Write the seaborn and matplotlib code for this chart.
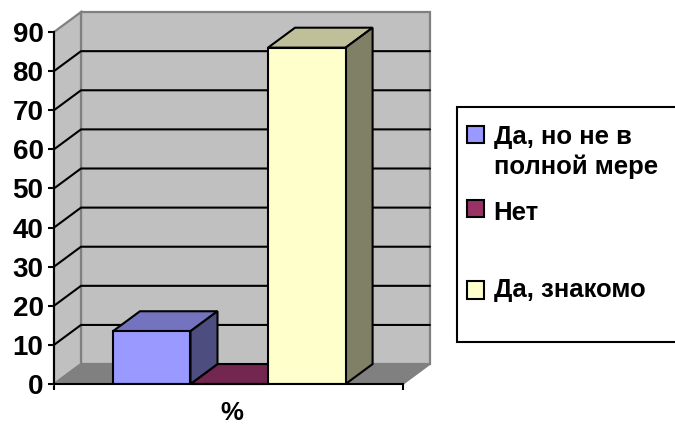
import matplotlib
matplotlib.use("Agg")
import matplotlib.pyplot as plt
import pandas as pd
import seaborn as sns
from matplotlib.legend_handler import HandlerPatch
from matplotlib.patches import Polygon, Rectangle

categories = ["Да, но не в\nполной мере", "Нет\n ", "Да, знакомо\n "]
values = [13.5, 0, 86]
front_colors = ["#9999FF", "#993366", "#FFFFCC"]
top_colors = ["#7373BF", "#732650", "#BFBF99"]
side_colors = ["#4D4D80", "#4D1A33", "#808066"]
y_ticks = [0, 10, 20, 30, 40, 50, 60, 70, 80, 90]
x_label = "%"

sns.set_style("white")
plt.rcParams["font.family"] = ["Liberation Sans", "DejaVu Sans"]
plt.rcParams["font.weight"] = "bold"
plt.rcParams["text.color"] = "black"
plt.rcParams["axes.labelcolor"] = "black"
plt.rcParams["ytick.color"] = "black"
plt.rcParams["xtick.color"] = "black"

W, H = 675, 426
fig = plt.figure(figsize=(W / 100, H / 100), dpi=100)
ax = fig.add_axes([54 / W, 1 - 384 / H, 349 / W, 352 / H])

df = pd.DataFrame({"answer": categories, "percent": values})
sns.barplot(
    data=df, x="answer", y="percent", hue="answer",
    palette=dict(zip(categories, front_colors)), legend=False, saturation=1,
    width=1, edgecolor="black", linewidth=1.5, zorder=5, ax=ax,
)
bars = list(ax.patches)

xmin, xmax = -1.26, 3.24
ymax = 90
ax.set_xlim(xmin, xmax)
ax.set_ylim(0, ymax)
ax.patch.set_visible(False)

# pseudo 3D depth, in data units
dx, dy = 0.348, 5.1
wall = "#C0C0C0"
floor = "#808080"
edge = "#808080"

ax.add_patch(Polygon([(xmin + dx, dy), (xmax + dx, dy), (xmax + dx, ymax + dy), (xmin + dx, ymax + dy)],
                     fc=wall, ec=edge, lw=1.6, clip_on=False, zorder=1))
ax.add_patch(Polygon([(xmin, 0), (xmin + dx, dy), (xmin + dx, ymax + dy), (xmin, ymax)],
                     fc=wall, ec=edge, lw=1.6, clip_on=False, zorder=1))
ax.add_patch(Polygon([(xmin, 0), (xmax, 0), (xmax + dx, dy), (xmin + dx, dy)],
                     fc=floor, ec=edge, lw=1.2, clip_on=False, zorder=1))

for t in y_ticks[1:-1]:
    ax.plot([xmin, xmin + dx, xmax + dx], [t, t + dy, t + dy], color="black", lw=1.5,
            clip_on=False, zorder=2)

for i, patch in enumerate(bars):
    x0, x1 = patch.get_x(), patch.get_x() + patch.get_width()
    h = patch.get_height()
    ax.add_patch(Polygon([(x0, h), (x1, h), (x1 + dx, h + dy), (x0 + dx, h + dy)],
                         fc=top_colors[i], ec="black", lw=1.5, clip_on=False, zorder=3))
    if h > 0:
        ax.add_patch(Polygon([(x1, 0), (x1 + dx, dy), (x1 + dx, h + dy), (x1, h)],
                             fc=side_colors[i], ec="black", lw=1.5, clip_on=False, zorder=4))

for side in ["top", "right"]:
    ax.spines[side].set_visible(False)
for side in ["left", "bottom"]:
    ax.spines[side].set_color("black")
    ax.spines[side].set_linewidth(1.5)
    ax.spines[side].set_zorder(6)

ax.set_yticks(y_ticks)
ax.set_xticks([xmin, xmax], ["", ""])
ax.tick_params(axis="both", which="major", left=True, bottom=True, direction="out", length=4.5, width=1.5,
               color="black", pad=3)
ax.tick_params(axis="y", labelsize=20)
ax.set_ylabel("")
ax.set_xlabel(x_label, fontsize=18.5, fontweight="bold", labelpad=5, x=0.51)

handles = [Rectangle((0, 0), 1, 1, fc=c, ec="black", lw=1.5) for c in front_colors]
# rows are not evenly spaced in the original
row_linespacing = [1.26, 1.38, 0.85]
handle_lift = [13, 15, 8]


def top_handle(legend, orig_handle, xdescent, ydescent, width, height, fontsize):
    # square sits beside the first text line, not the last
    lift = handle_lift[handles.index(orig_handle)]
    return Rectangle((-xdescent - 5.8, -ydescent + lift), width, height)


# frame runs past the right edge of the figure, as in the original
leg = fig.legend(
    handles, categories, loc="upper left", bbox_to_anchor=(457 / W, 0, 300 / W, 1 - 107 / H),
    bbox_transform=fig.transFigure, mode="expand", borderaxespad=0, fontsize=18.5, frameon=True,
    fancybox=False, framealpha=1, edgecolor="black", handlelength=0.66, handleheight=0.66,
    handletextpad=0.05, labelspacing=0.85, borderpad=0.72,
    handler_map={Rectangle: HandlerPatch(patch_func=top_handle)},
)
leg.get_frame().set_linewidth(1.5)
for text, spacing in zip(leg.get_texts(), row_linespacing):
    text.set_linespacing(spacing)

fig.savefig("out.png", dpi=100)
